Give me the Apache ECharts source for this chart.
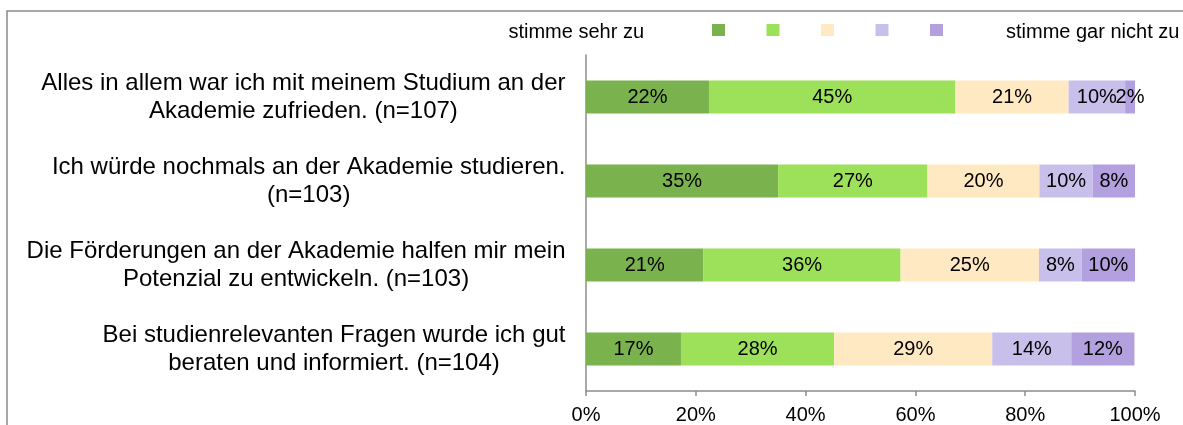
<!DOCTYPE html>
<html>
<head>
<meta charset="utf-8">
<script src="https://cdn.jsdelivr.net/npm/echarts@6/dist/echarts.min.js"></script>
<style>
  html, body { margin: 0; padding: 0; background: #fff; }
  #chart { width: 1183px; height: 425px; }
</style>
</head>
<body>
<div id="chart"></div>
<script>
const categories = [
  "Alles in allem war ich mit meinem Studium an der\nAkademie zufrieden. (n=107)",
  "Ich würde nochmals an der Akademie studieren.\n(n=103)",
  "Die Förderungen an der Akademie halfen mir mein\nPotenzial zu entwickeln. (n=103)",
  "Bei studienrelevanten Fragen wurde ich gut\nberaten und informiert. (n=104)"
];
const seriesNames = ["stimme sehr zu", "stimme eher zu", "teils/teils", "stimme eher nicht zu", "stimme gar nicht zu"];
// percent per category, one array per answer
const sehrZu = [22.4, 35.0, 21.4, 17.3];
const eherZu = [44.9, 27.2, 35.9, 27.9];
const teils = [20.6, 20.4, 25.2, 28.8];
const eherNicht = [10.3, 9.7, 7.8, 14.4];
const garNicht = [1.9, 7.8, 9.7, 11.5];
const colors = ["#7ab24e", "#9de05a", "#ffe9c2", "#c8c0ea", "#b3a0de"];
const xTicks = [0, 20, 40, 60, 80, 100];

const values = [sehrZu, eherZu, teils, eherNicht, garNicht];
const font = "Liberation Sans, Arial, sans-serif";

const chart = echarts.init(document.getElementById("chart"));
const option = {
  animation: false,
  textStyle: { fontFamily: font },
  grid: { left: 586, right: 48, top: 55, bottom: 33.5 },
  legend: {
    left: 712,
    top: 24,
    padding: 0,
    icon: "rect",
    itemWidth: 13,
    itemHeight: 12,
    itemGap: 41.5,
    selectedMode: false,
    formatter: () => "",
    data: seriesNames
  },
  graphic: [
    {
      type: "rect",
      shape: { x: 7, y: 11, width: 1300, height: 600 },
      style: { fill: "none", stroke: "#8c8c8c", lineWidth: 1.5 },
      silent: true
    },
    {
      type: "text",
      right: 539,
      top: 22,
      style: { text: "stimme sehr zu", fontSize: 20, fontFamily: font, fill: "#000" }
    },
    {
      type: "text",
      left: 1006,
      top: 22,
      style: { text: "stimme gar nicht zu", fontSize: 20, fontFamily: font, fill: "#000" }
    }
  ],
  xAxis: {
    type: "value",
    min: 0,
    max: 100,
    interval: 20,
    splitLine: { show: false },
    axisLine: { show: true, lineStyle: { color: "#8c8c8c", width: 1.5 } },
    axisTick: { show: true, length: 5, lineStyle: { color: "#8c8c8c", width: 1.5 } },
    axisLabel: {
      color: "#000",
      fontSize: 20,
      margin: 14,
      formatter: (v) => (xTicks.includes(v) ? v + "%" : "")
    }
  },
  yAxis: {
    type: "category",
    inverse: true,
    data: categories,
    axisLine: { show: true, lineStyle: { color: "#8c8c8c", width: 1.5 } },
    axisTick: { show: false },
    axisLabel: {
      align: "right",
      margin: 20.5,
      // block sits right, each line centred inside it
      formatter: (v) => v.split("\n").map((l) => "{c|" + l + "}").join("\n"),
      rich: {
        c: { align: "center", color: "#000", fontSize: 24, lineHeight: 28, fontFamily: font }
      }
    }
  },
  series: seriesNames.map((name, i) => ({
    name: name,
    type: "bar",
    stack: "total",
    barWidth: 33,
    data: values[i],
    itemStyle: { color: colors[i] },
    label: {
      show: true,
      position: "inside",
      color: "#000",
      fontSize: 20,
      formatter: (p) => Math.round(p.value) + "%"
    }
  }))
};
chart.setOption(option);
</script>
</body>
</html>
